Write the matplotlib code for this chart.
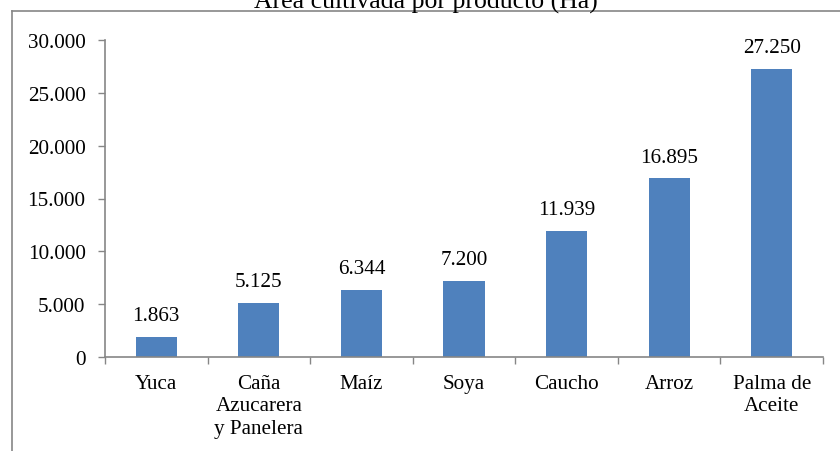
import matplotlib
matplotlib.use("Agg")
import matplotlib.pyplot as plt
from matplotlib.lines import Line2D
import numpy as np

categories = ["Yuca", "Caña\nAzucarera\ny Panelera", "Maíz", "Soya", "Caucho", "Arroz", "Palma de\nAceite"]
values = [1863, 5125, 6344, 7200, 11939, 16895, 27250]
value_labels = ["1.863", "5.125", "6.344", "7.200", "11.939", "16.895", "27.250"]
yticks = [0, 5000, 10000, 15000, 20000, 25000, 30000]
ytick_labels = ["0", "5.000", "10.000", "15.000", "20.000", "25.000", "30.000"]
title = "Área cultivada por producto (Ha)"

plt.rcParams['font.family'] = ['Liberation Serif', 'DejaVu Serif']
FS = 15.2
GREY = "#868686"

W, H = 840, 452
fig = plt.figure(figsize=(W/100, H/100), dpi=100)
ax = fig.add_axes([105/W, 1-358/H, (823-105)/W, (358-41)/H])

x = np.arange(len(categories))
ax.bar(x, values, width=0.4, color="#4F81BD", zorder=2)
for xi, v, lab in zip(x, values, value_labels):
    ax.annotate(lab, (xi, v), xytext=(0, 12.2), textcoords="offset points",
                ha="center", va="baseline", fontsize=FS, color="black")

ax.set_xlim(-0.5, len(categories) - 0.5)
ax.set_ylim(0, 30000)
ax.set_yticks(yticks)
ax.set_yticklabels(ytick_labels, fontsize=FS)
ax.set_xticks(x)
ax.set_xticklabels(categories, fontsize=FS, linespacing=1.26, va="top")
ax.set_xticks(np.arange(len(categories) + 1) - 0.5, minor=True)
ax.tick_params(axis="x", which="major", length=0, pad=12)
ax.tick_params(axis="x", which="minor", length=5, width=1, color=GREY, direction="out")
ax.tick_params(axis="y", which="major", length=5, width=1, color=GREY, direction="out", pad=9)

for s in ["top", "right"]:
    ax.spines[s].set_visible(False)
for s in ["left", "bottom"]:
    ax.spines[s].set_color(GREY)
    ax.spines[s].set_linewidth(1.2)

# outer chart frame
fig.add_artist(Line2D([11.5/W, 11.5/W], [0, 1-12/H], transform=fig.transFigure, color=GREY, lw=1.2))
fig.add_artist(Line2D([11.5/W, 1.0], [1-12/H, 1-12/H], transform=fig.transFigure, color=GREY, lw=1.2))

fig.text(426/W, 1-8/H, title, ha="center", va="baseline", fontsize=18.5)

fig.savefig("out.png", dpi=100)
